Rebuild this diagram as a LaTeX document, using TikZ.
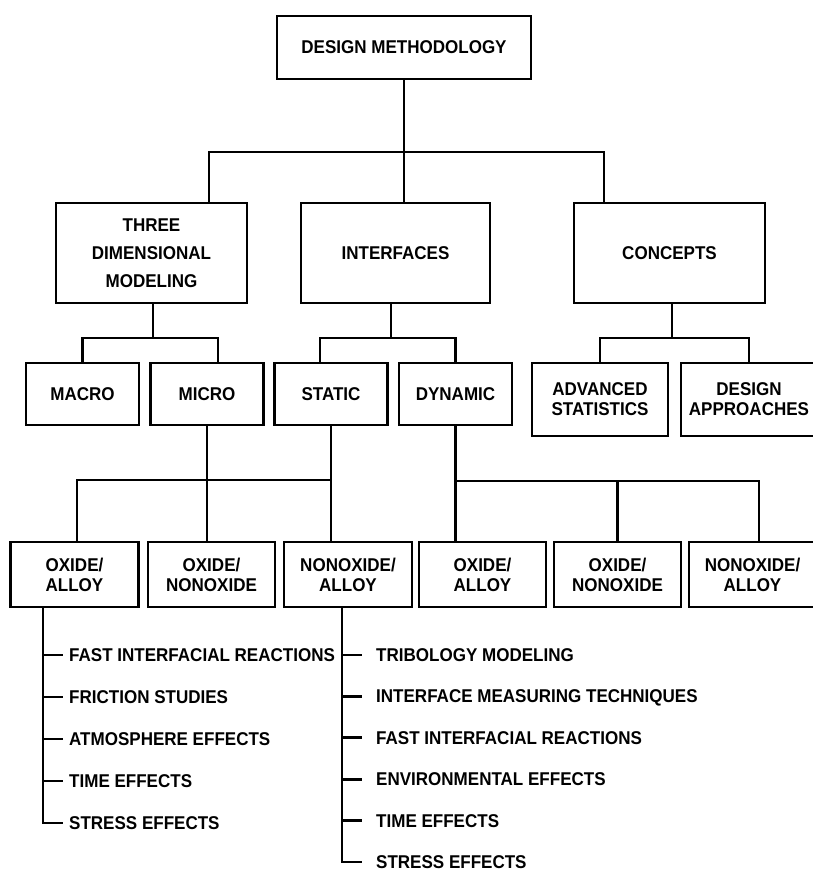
\documentclass[tikz,border=0pt]{standalone}
\usepackage{fontspec}
\setmainfont{Liberation Sans}[FakeStretch=0.92]
\usetikzlibrary{positioning}

\begin{document}
\begin{tikzpicture}[x=1pt,y=-1pt,line join=miter,
  box/.style={draw,line width=2.8pt,inner sep=0pt,align=center,font=\bfseries\fontsize{18.5}{20}\selectfont},
  link/.style={line width=2.8pt},
  item/.style={anchor=west,inner sep=0pt,text height=13pt,text depth=0pt,font=\bfseries\fontsize{18.5}{20}\selectfont}]
\useasboundingbox (0,0) rectangle (813,873);
% top box
\node[box,minimum width=254pt,minimum height=63pt] (dm) at (404,47.5) {DESIGN METHODOLOGY};
% second row
\node[box,minimum width=191pt,minimum height=100pt,font=\bfseries\fontsize{18.5}{28}\selectfont] (tdm) at (151.5,253) {THREE\\ DIMENSIONAL\\ MODELING};
\node[box,minimum width=189pt,minimum height=100pt] (intf) at (395.5,253) {INTERFACES};
\node[box,minimum width=191pt,minimum height=100pt] (conc) at (669.5,253) {CONCEPTS};
% third row
\foreach \name/\x/\t in {macro/82.5/MACRO,micro/207/MICRO,static/331/STATIC,dyn/455.5/DYNAMIC}
  \node[box,minimum width=113pt,minimum height=62pt] (\name) at (\x,394) {\t};
\node[box,minimum width=136pt,minimum height=73pt] (adv) at (600,399.5) {ADVANCED\\ STATISTICS};
\node[box,minimum width=136pt,minimum height=73pt] (dsg) at (749,399.5) {DESIGN\\ APPROACHES};
% bottom row (material pairs)
\node[box,minimum width=128pt,minimum height=65pt] (oa1) at (74.5,574.5) {OXIDE/\\ ALLOY};
\node[box,minimum width=127pt,minimum height=65pt] (on1) at (211.5,574.5) {OXIDE/\\ NONOXIDE};
\node[box,minimum width=128pt,minimum height=65pt] (na1) at (348,574.5) {NONOXIDE/\\ ALLOY};
\node[box,minimum width=127pt,minimum height=65pt] (oa2) at (482.5,574.5) {OXIDE/\\ ALLOY};
\node[box,minimum width=127pt,minimum height=65pt] (on2) at (617.5,574.5) {OXIDE/\\ NONOXIDE};
\node[box,minimum width=127pt,minimum height=65pt] (na2) at (752.5,574.5) {NONOXIDE/\\ ALLOY};
% junctions
\coordinate (j1) at (209,152); \coordinate (j2) at (604,152);
\coordinate (j3) at (153,338); \coordinate (j4) at (218,338);
\coordinate (j5) at (391,338); \coordinate (j6) at (320,338);
\coordinate (j7) at (672,338);
\coordinate (j8) at (77,480); \coordinate (j9) at (333,480);
\coordinate (j10) at (457,481); \coordinate (j11) at (759,481);
% tree links
\draw[link] (dm.south) -- (dm.south |- intf.north);
\draw[link] (tdm.north -| j1) -- (j1) -- (j2) -- (conc.north -| j2);
\draw[link] (tdm.south -| j3) -- (j3);
\draw[link] (macro.north) -- (macro.north |- j3) -- (j4) -- (micro.north -| j4);
\draw[link] (intf.south -| j5) -- (j5);
\draw[link] (static.north -| j6) -- (j6) -| (dyn.north);
\draw[link] (conc.south -| j7) -- (j7);
\draw[link] (adv.north) |- (j7) -| (dsg.north);
\draw[link] (micro.south) -- (micro.south |- on1.north);
\draw[link] (static.south) -- (static.south |- na1.north);
\draw[link] (oa1.north -| j8) -- (j8) -- (static.south |- j9);
\draw[link] (dyn.south) -- (dyn.south |- oa2.north);
\draw[link] (dyn.south |- j10) -- (j11) -- (na2.north -| j11);
\draw[link] (on2.north) -- (on2.north |- j10);
% lists under oxide/alloy and nonoxide/alloy
\coordinate (stemL) at (43,0); \coordinate (stemR) at (342,0);
\foreach \t [count=\i from 0] in {FAST INTERFACIAL REACTIONS,FRICTION STUDIES,ATMOSPHERE EFFECTS,TIME EFFECTS,STRESS EFFECTS}
  \node[item] (la\i) at (69,{655+42*\i}) {\t};
\foreach \t [count=\i from 0] in {TRIBOLOGY MODELING,INTERFACE MEASURING TECHNIQUES,FAST INTERFACIAL REACTIONS,ENVIRONMENTAL EFFECTS,TIME EFFECTS,STRESS EFFECTS}
  \node[item] (lb\i) at (376,{655+41.4*\i}) {\t};
\draw[link] (oa1.south -| stemL) |- ([xshift=-6pt]la4.west);
\foreach \i in {0,...,3} \draw[link] (la\i.west -| stemL) -- ([xshift=-6pt]la\i.west);
\draw[link] (na1.south -| stemR) |- ([xshift=-14pt]lb5.west);
\foreach \i in {0,...,4} \draw[link] (lb\i.west -| stemR) -- ([xshift=-14pt]lb\i.west);
\end{tikzpicture}
\end{document}
